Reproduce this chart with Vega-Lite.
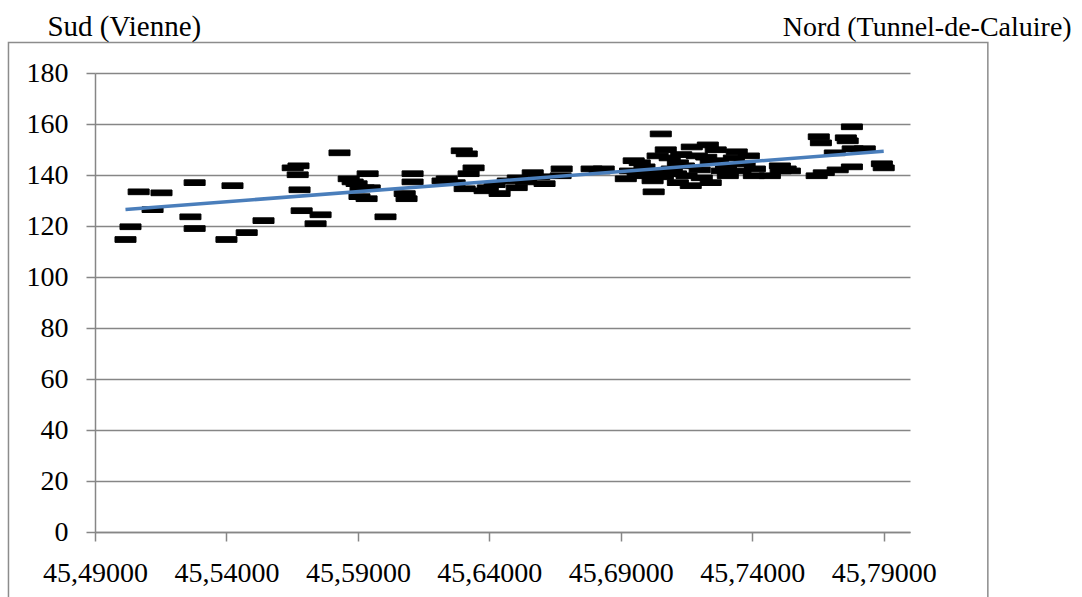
{
  "$schema": "https://vega.github.io/schema/vega-lite/v6.json",
  "width": 815,
  "height": 459,
  "autosize": {"type": "none"},
  "padding": {"left": 95, "top": 73, "right": 172, "bottom": 65},
  "background": "white",
  "config": {"view": {"stroke": null}, "font": "Liberation Serif"},
  "data": {"values": [
    {"latitude": 45.5016, "value": 114.7},
    {"latitude": 45.5035, "value": 119.7},
    {"latitude": 45.5066, "value": 133.4},
    {"latitude": 45.5153, "value": 133.0},
    {"latitude": 45.5119, "value": 126.4},
    {"latitude": 45.5279, "value": 137.0},
    {"latitude": 45.5263, "value": 123.6},
    {"latitude": 45.5279, "value": 119.0},
    {"latitude": 45.5423, "value": 135.8},
    {"latitude": 45.5400, "value": 114.7},
    {"latitude": 45.5477, "value": 117.4},
    {"latitude": 45.5541, "value": 122.1},
    {"latitude": 45.5652, "value": 142.8},
    {"latitude": 45.5674, "value": 143.6},
    {"latitude": 45.5671, "value": 140.1},
    {"latitude": 45.5678, "value": 134.2},
    {"latitude": 45.5686, "value": 126.0},
    {"latitude": 45.5758, "value": 124.4},
    {"latitude": 45.5739, "value": 120.9},
    {"latitude": 45.5830, "value": 148.7},
    {"latitude": 45.5865, "value": 138.5},
    {"latitude": 45.5937, "value": 140.5},
    {"latitude": 45.5895, "value": 136.6},
    {"latitude": 45.5910, "value": 134.6},
    {"latitude": 45.5945, "value": 135.0},
    {"latitude": 45.5906, "value": 131.5},
    {"latitude": 45.5933, "value": 130.7},
    {"latitude": 45.5922, "value": 135.0},
    {"latitude": 45.5880, "value": 137.3},
    {"latitude": 45.6005, "value": 123.6},
    {"latitude": 45.6108, "value": 140.5},
    {"latitude": 45.6108, "value": 137.3},
    {"latitude": 45.6078, "value": 132.7},
    {"latitude": 45.6085, "value": 130.7},
    {"latitude": 45.6295, "value": 149.5},
    {"latitude": 45.6314, "value": 148.3},
    {"latitude": 45.6340, "value": 142.8},
    {"latitude": 45.6321, "value": 140.5},
    {"latitude": 45.6238, "value": 138.5},
    {"latitude": 45.6222, "value": 137.7},
    {"latitude": 45.6268, "value": 137.0},
    {"latitude": 45.6306, "value": 134.6},
    {"latitude": 45.6382, "value": 133.8},
    {"latitude": 45.6394, "value": 135.0},
    {"latitude": 45.6420, "value": 136.2},
    {"latitude": 45.6439, "value": 132.7},
    {"latitude": 45.6470, "value": 137.7},
    {"latitude": 45.6504, "value": 135.0},
    {"latitude": 45.6508, "value": 138.9},
    {"latitude": 45.6540, "value": 137.3},
    {"latitude": 45.6565, "value": 140.9},
    {"latitude": 45.6590, "value": 139.3},
    {"latitude": 45.6610, "value": 136.6},
    {"latitude": 45.6675, "value": 142.4},
    {"latitude": 45.6671, "value": 139.7},
    {"latitude": 45.6789, "value": 142.4},
    {"latitude": 45.6820, "value": 141.6},
    {"latitude": 45.6835, "value": 142.4},
    {"latitude": 45.6949, "value": 145.6},
    {"latitude": 45.6972, "value": 144.8},
    {"latitude": 45.7052, "value": 156.1},
    {"latitude": 45.7025, "value": 133.4},
    {"latitude": 45.7071, "value": 149.9},
    {"latitude": 45.7170, "value": 151.0},
    {"latitude": 45.7231, "value": 151.8},
    {"latitude": 45.7261, "value": 149.9},
    {"latitude": 45.7341, "value": 149.1},
    {"latitude": 45.7387, "value": 147.5},
    {"latitude": 45.7086, "value": 146.7},
    {"latitude": 45.7189, "value": 147.5},
    {"latitude": 45.7410, "value": 142.4},
    {"latitude": 45.7505, "value": 143.6},
    {"latitude": 45.7406, "value": 139.7},
    {"latitude": 45.7508, "value": 141.6},
    {"latitude": 45.6919, "value": 138.5},
    {"latitude": 45.6995, "value": 139.7},
    {"latitude": 45.7021, "value": 137.7},
    {"latitude": 45.7117, "value": 137.0},
    {"latitude": 45.7166, "value": 135.8},
    {"latitude": 45.7242, "value": 137.0},
    {"latitude": 45.7208, "value": 138.9},
    {"latitude": 45.7307, "value": 139.7},
    {"latitude": 45.6964, "value": 140.9},
    {"latitude": 45.7094, "value": 142.4},
    {"latitude": 45.7284, "value": 141.6},
    {"latitude": 45.7371, "value": 144.4},
    {"latitude": 45.7117, "value": 144.8},
    {"latitude": 45.7242, "value": 144.8},
    {"latitude": 45.6935, "value": 141.6},
    {"latitude": 45.6990, "value": 143.2},
    {"latitude": 45.7040, "value": 141.0},
    {"latitude": 45.7060, "value": 139.3},
    {"latitude": 45.7110, "value": 140.5},
    {"latitude": 45.7140, "value": 143.6},
    {"latitude": 45.7150, "value": 139.7},
    {"latitude": 45.7200, "value": 142.0},
    {"latitude": 45.7225, "value": 147.0},
    {"latitude": 45.7270, "value": 145.6},
    {"latitude": 45.7300, "value": 143.2},
    {"latitude": 45.7330, "value": 146.7},
    {"latitude": 45.7355, "value": 141.6},
    {"latitude": 45.7130, "value": 148.0},
    {"latitude": 45.7040, "value": 147.5},
    {"latitude": 45.7779, "value": 158.9},
    {"latitude": 45.7653, "value": 155.0},
    {"latitude": 45.7756, "value": 154.6},
    {"latitude": 45.7661, "value": 152.6},
    {"latitude": 45.7763, "value": 153.4},
    {"latitude": 45.7782, "value": 150.3},
    {"latitude": 45.7828, "value": 150.3},
    {"latitude": 45.7714, "value": 148.7},
    {"latitude": 45.7900, "value": 142.8},
    {"latitude": 45.7893, "value": 144.4},
    {"latitude": 45.7779, "value": 143.2},
    {"latitude": 45.7725, "value": 142.0},
    {"latitude": 45.7645, "value": 139.7},
    {"latitude": 45.7672, "value": 140.9},
    {"latitude": 45.7527, "value": 142.4},
    {"latitude": 45.7467, "value": 139.7},
    {"latitude": 45.7543, "value": 141.6}
  ]},
  "layer": [
    {
      "mark": {"type": "point", "shape": "M-1,-0.27L1,-0.27L1,0.27L-1,0.27Z", "size": 441, "filled": true, "fill": "black", "stroke": "black", "strokeWidth": 1, "strokeJoin": "round", "opacity": 1},
      "encoding": {
        "x": {
          "field": "latitude", "type": "quantitative",
          "scale": {"domain": [45.49, 45.80], "nice": false, "zero": false},
          "axis": {
            "values": [45.49, 45.54, 45.59, 45.64, 45.69, 45.74, 45.79],
            "labelExpr": "replace(format(datum.value, '.5f'), '.', ',')",
            "grid": false, "title": null,
            "domainColor": "#868686", "domainWidth": 1.5,
            "tickColor": "#868686", "tickWidth": 1.5, "tickSize": 9,
            "labelFont": "Liberation Serif", "labelFontSize": 28, "labelColor": "black",
            "labelPadding": 18, "labelFlush": false, "labelOverlap": false
          }
        },
        "y": {
          "field": "value", "type": "quantitative",
          "scale": {"domain": [0, 180], "nice": false},
          "axis": {
            "values": [0, 20, 40, 60, 80, 100, 120, 140, 160, 180],
            "grid": true, "gridColor": "#868686", "gridWidth": 1.5,
            "title": null,
            "domainColor": "#868686", "domainWidth": 1.5,
            "tickColor": "#868686", "tickWidth": 1.5, "tickSize": 9,
            "labelFont": "Liberation Serif", "labelFontSize": 28, "labelColor": "black",
            "labelPadding": 18, "labelOverlap": false
          }
        }
      }
    },
    {
      "transform": [{"regression": "value", "on": "latitude"}],
      "mark": {"type": "line", "color": "#4a7ebb", "strokeWidth": 3.5},
      "encoding": {
        "x": {"field": "latitude", "type": "quantitative"},
        "y": {"field": "value", "type": "quantitative"}
      }
    },
    {
      "data": {"values": [{}]},
      "mark": {"type": "rect", "fill": null, "stroke": "#8c8c8c", "strokeWidth": 1.5, "clip": false},
      "encoding": {
        "x": {"datum": 45.45709, "type": "quantitative"},
        "x2": {"datum": 45.82961},
        "y": {"datum": 192.0, "type": "quantitative"},
        "y2": {"datum": -35}
      }
    },
    {
      "data": {"values": [{}]},
      "mark": {"type": "text", "text": "Sud (Vienne)", "align": "left", "baseline": "alphabetic", "font": "Liberation Serif", "fontSize": 29, "color": "black"},
      "encoding": {
        "x": {"datum": 45.47193, "type": "quantitative"},
        "y": {"datum": 194.6, "type": "quantitative"}
      }
    },
    {
      "data": {"values": [{}]},
      "mark": {"type": "text", "text": "Nord (Tunnel-de-Caluire)", "align": "right", "baseline": "alphabetic", "font": "Liberation Serif", "fontSize": 28, "color": "black"},
      "encoding": {
        "x": {"datum": 45.8615, "type": "quantitative"},
        "y": {"datum": 194.6, "type": "quantitative"}
      }
    }
  ]
}
